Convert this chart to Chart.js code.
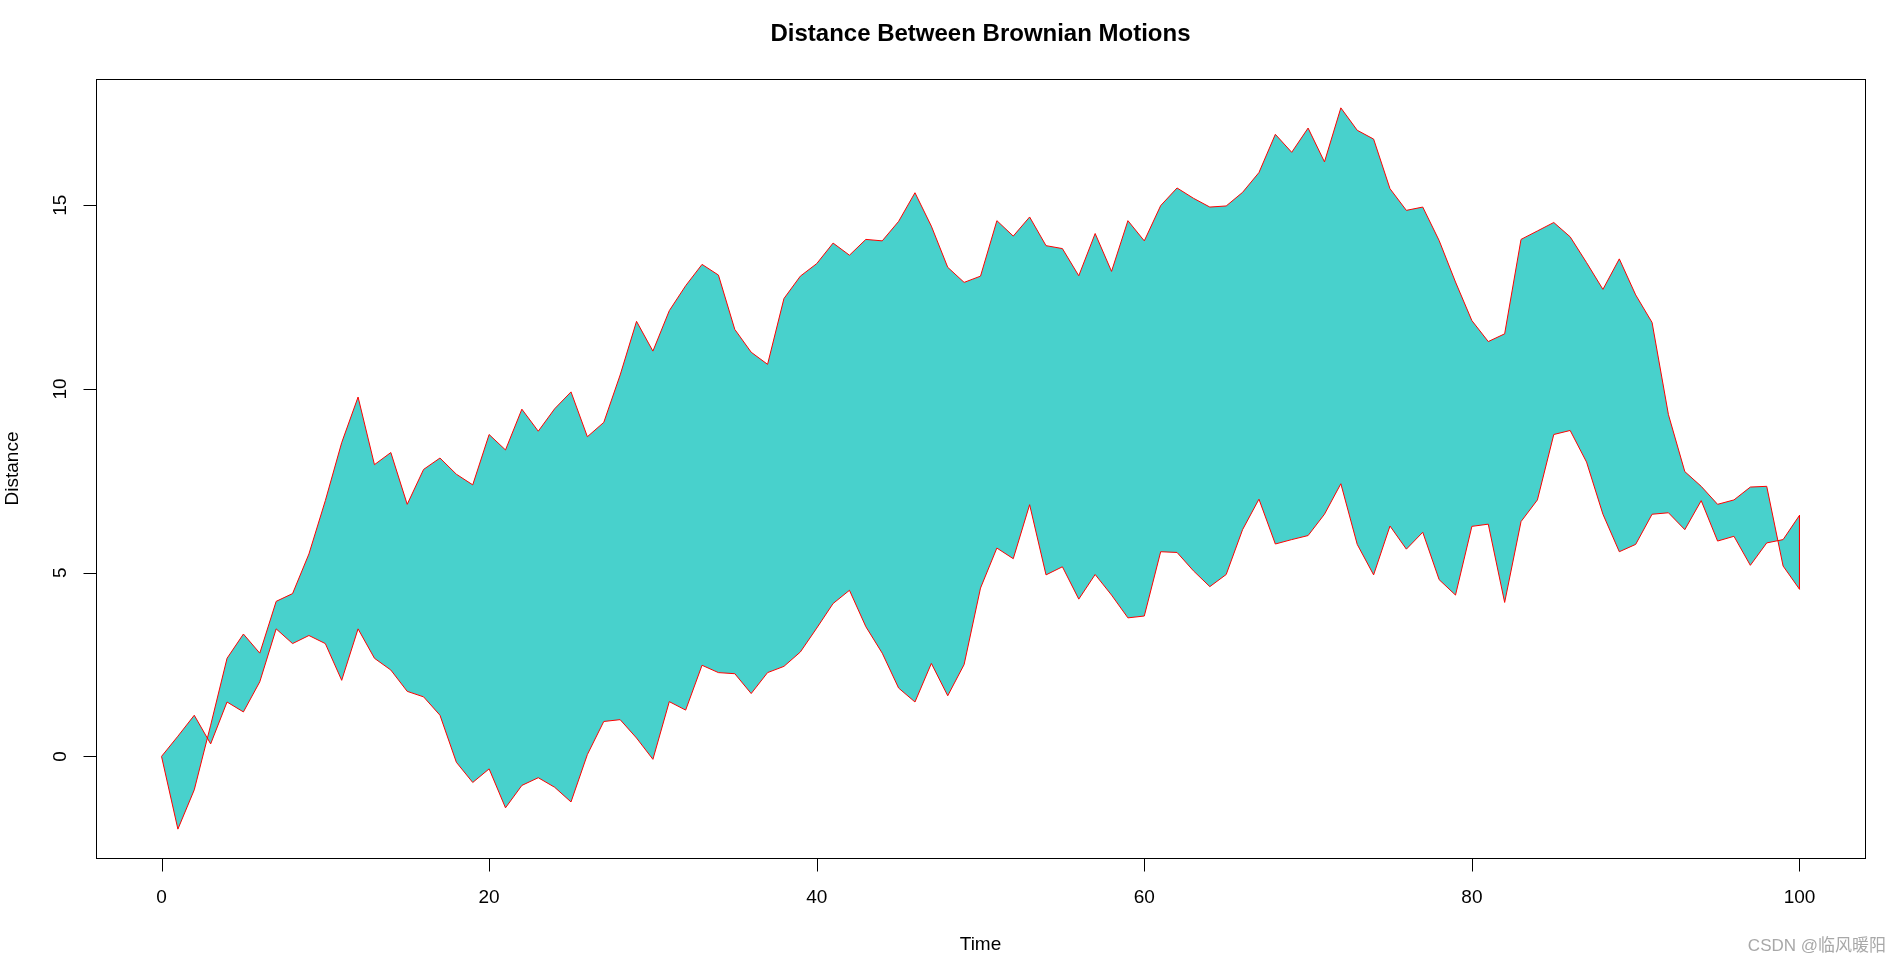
<!DOCTYPE html>
<html>
<head>
<meta charset="utf-8">
<title>Distance Between Brownian Motions</title>
<script src="https://cdn.jsdelivr.net/npm/chart.js@4/dist/chart.umd.min.js"></script>
<style>
  html, body { margin: 0; padding: 0; background: #fff; }
  #wrap { width: 1901px; height: 963px; }
</style>
</head>
<body>
<div id="wrap"><canvas id="bmChart" width="1901" height="963"></canvas></div>
<script>
// ---- DATA ----
const timeSteps = Array.from({ length: 101 }, (_, i) => i);

// first motion: ends higher after the crossing near t = 98
const motionA = [
  0, 0.55, 1.12, 0.34, 1.48, 1.21, 2.03, 3.47, 3.07, 3.29,
  3.07, 2.07, 3.47, 2.67, 2.35, 1.77, 1.62, 1.12, -0.16, -0.71,
  -0.34, -1.40, -0.79, -0.58, -0.84, -1.24, 0.05, 0.95, 1.00, 0.50,
  -0.08, 1.49, 1.26, 2.48, 2.28, 2.25, 1.71, 2.28, 2.45, 2.84,
  3.49, 4.16, 4.52, 3.53, 2.81, 1.86, 1.48, 2.53, 1.65, 2.50,
  4.58, 5.67, 5.38, 6.85, 4.94, 5.16, 4.28, 4.95, 4.39, 3.77,
  3.82, 5.57, 5.55, 5.05, 4.62, 4.95, 6.17, 7.00, 5.78, 5.90,
  6.01, 6.59, 7.42, 5.77, 4.94, 6.27, 5.64, 6.10, 4.81, 4.39,
  6.26, 6.32, 4.19, 6.39, 6.98, 8.76, 8.87, 8.01, 6.59, 5.57,
  5.77, 6.59, 6.63, 6.17, 6.96, 5.86, 5.99, 5.20, 5.81, 5.90,
  6.56
];

// second motion: dips to -2 at t = 1, then stays on top most of the way
const motionB = [
  0, -1.98, -0.91, 0.85, 2.67, 3.33, 2.81, 4.22, 4.43, 5.51,
  6.96, 8.54, 9.78, 7.94, 8.27, 6.86, 7.81, 8.12, 7.68, 7.39,
  8.76, 8.34, 9.45, 8.85, 9.46, 9.92, 8.70, 9.09, 10.38, 11.84,
  11.03, 12.13, 12.81, 13.39, 13.10, 11.62, 11.00, 10.67, 12.46, 13.07,
  13.41, 13.97, 13.64, 14.07, 14.03, 14.56, 15.34, 14.43, 13.31, 12.90,
  13.07, 14.58, 14.16, 14.68, 13.90, 13.82, 13.08, 14.23, 13.20, 14.58,
  14.03, 14.99, 15.47, 15.19, 14.95, 14.98, 15.35, 15.89, 16.93, 16.44,
  17.10, 16.18, 17.65, 17.04, 16.80, 15.45, 14.86, 14.95, 14.04, 12.91,
  11.86, 11.29, 11.50, 14.07, 14.30, 14.53, 14.14, 13.44, 12.71, 13.54,
  12.56, 11.81, 9.30, 7.75, 7.35, 6.86, 6.98, 7.33, 7.35, 5.18,
  4.55
];

const xTicks = [0, 20, 40, 60, 80, 100];
const yTicks = [0, 5, 10, 15];

const TITLE = 'Distance Between Brownian Motions';
const X_LABEL = 'Time';
const Y_LABEL = 'Distance';
const WATERMARK = 'CSDN @临风暖阳';

const FILL_COLOR = '#48D1CC';   // mediumturquoise
const EDGE_COLOR = '#FF0000';
const FONT = '"Liberation Sans", Arial, "Noto Sans CJK SC", sans-serif';

// ---- R style axis range: data range padded 4% each side ----
function padRange(lo, hi) {
  const d = (hi - lo) * 0.04;
  return [lo - d, hi + d];
}
const [xMin, xMax] = padRange(Math.min(...timeSteps), Math.max(...timeSteps));
const allY = motionA.concat(motionB);
const [yMin, yMax] = padRange(Math.min(...allY), Math.max(...allY));

const toPoints = (vals) => vals.map((v, i) => ({ x: timeSteps[i], y: v }));
const last = timeSteps.length - 1;

// ---- box, ticks and labels drawn the way base R does ----
const rAxesPlugin = {
  id: 'rAxes',
  afterDraw(chart) {
    const { ctx, chartArea: a, scales: { x, y } } = chart;
    const L = Math.round(a.left) + 0.5, R = Math.round(a.right) + 0.5;
    const T = Math.round(a.top) + 0.5, B = Math.round(a.bottom) + 0.5;
    const midX = (a.left + a.right) / 2;
    const midY = (a.top + a.bottom) / 2;

    ctx.save();
    ctx.strokeStyle = '#000';
    ctx.lineWidth = 1;
    ctx.strokeRect(L, T, R - L, B - T);

    ctx.fillStyle = '#000';
    ctx.font = '19px ' + FONT;
    ctx.textAlign = 'center';
    ctx.textBaseline = 'middle';

    // x axis
    ctx.beginPath();
    xTicks.forEach(v => {
      const px = Math.round(x.getPixelForValue(v)) + 0.5;
      ctx.moveTo(px, B);
      ctx.lineTo(px, B + 13);
    });
    ctx.stroke();
    xTicks.forEach(v => ctx.fillText(String(v), x.getPixelForValue(v), B + 39));

    // y axis
    ctx.beginPath();
    yTicks.forEach(v => {
      const py = Math.round(y.getPixelForValue(v)) + 0.5;
      ctx.moveTo(L, py);
      ctx.lineTo(L - 13, py);
    });
    ctx.stroke();
    yTicks.forEach(v => {
      ctx.save();
      ctx.translate(L - 36, y.getPixelForValue(v));
      ctx.rotate(-Math.PI / 2);
      ctx.fillText(String(v), 0, 0);
      ctx.restore();
    });

    // axis titles
    ctx.fillText(X_LABEL, midX, 945);
    ctx.save();
    ctx.translate(13, midY);
    ctx.rotate(-Math.PI / 2);
    ctx.fillText(Y_LABEL, 0, 0);
    ctx.restore();

    // main title
    ctx.font = 'bold 24px ' + FONT;
    ctx.fillText(TITLE, midX, 34);

    // watermark
    ctx.font = '17px ' + FONT;
    ctx.fillStyle = '#a8a8a8';
    ctx.textAlign = 'right';
    ctx.fillText(WATERMARK, 1886, 946);
    ctx.restore();
  }
};

const ctx = document.getElementById('bmChart').getContext('2d');
new Chart(ctx, {
  type: 'line',
  data: {
    datasets: [
      {
        label: 'motion A',
        data: toPoints(motionA),
        borderColor: EDGE_COLOR,
        borderWidth: 1,
        backgroundColor: FILL_COLOR,
        fill: '+1',
        pointRadius: 0,
        tension: 0,
      },
      {
        label: 'motion B',
        data: toPoints(motionB),
        borderColor: EDGE_COLOR,
        borderWidth: 1,
        fill: false,
        pointRadius: 0,
        tension: 0,
      },
      {
        // closing edge of the polygon at the last time step
        label: 'end',
        data: [
          { x: timeSteps[last], y: motionA[last] },
          { x: timeSteps[last], y: motionB[last] },
        ],
        borderColor: EDGE_COLOR,
        borderWidth: 1,
        fill: false,
        pointRadius: 0,
      },
    ]
  },
  options: {
    responsive: false,
    animation: false,
    layout: { padding: { left: 96, right: 36, top: 79, bottom: 105 } },
    scales: {
      x: { type: 'linear', min: xMin, max: xMax, display: false },
      y: { type: 'linear', min: yMin, max: yMax, display: false },
    },
    plugins: {
      legend: { display: false },
      tooltip: { enabled: false },
      title: { display: false },
      // all fills first, so the red edges stay on top
      filler: { drawTime: 'beforeDatasetsDraw' },
    }
  },
  plugins: [rAxesPlugin]
});
</script>
</body>
</html>
